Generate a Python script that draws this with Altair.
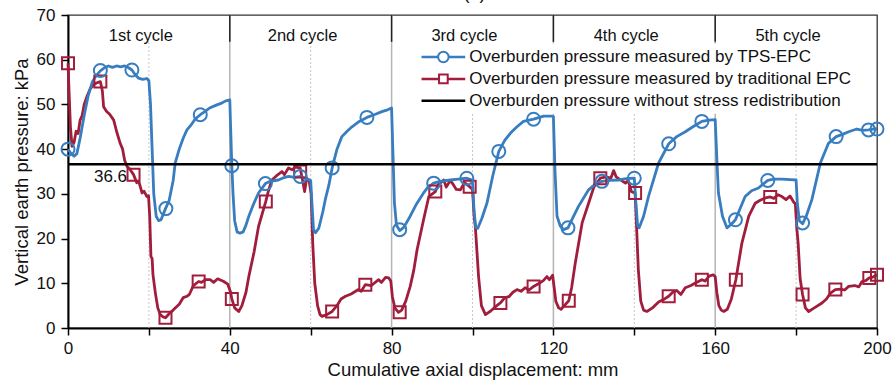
import altair as alt
import pandas as pd

# ---------------- data ----------------
TPS_X = [0, 0.6, 1.5, 2.2, 3, 4, 5, 6, 7, 8, 9, 10, 11, 12, 13, 14, 15, 15.8, 16.5, 17.4, 18.5, 19.5, 20,
         20.4, 20.8, 21.2, 21.8, 22.4, 23, 24.1, 25, 26, 26.5, 27.5, 28.5, 29.4, 30.5, 31.5, 32.7, 34, 35,
         36.8, 38, 39, 40, 40.2, 40.5, 40.8, 41.2, 41.8, 42.5, 43.3, 44, 44.7, 46, 47.1, 48.8, 50, 52, 53,
         54.5, 56, 57.4, 58.5, 59.5, 60, 60.3, 60.7, 61.2, 62, 63, 63.6, 64.5, 65.3, 66.5, 67.7, 69, 70.2,
         72, 73.9, 76, 77.6, 79, 80, 80.3, 80.7, 81.2, 82, 83, 84.6, 86, 87.9, 89, 90.4, 92, 94.5, 96.5,
         98.6, 99.6, 100, 100.4, 100.8, 101.3, 102.3, 103.6, 105, 106.5, 108, 109.4, 111, 112.6, 115.1,
         117.6, 119.5, 120, 120.4, 120.9, 121.7, 122.5, 123.6, 125, 126.2, 128.7, 130.5, 132, 134, 136.1,
         138, 140, 140.4, 140.8, 141.2, 142.3, 143.5, 146, 148.5, 150.5, 152.6, 154.5, 156.7, 158.5, 160,
         160.4, 160.8, 161.8, 162.9, 164, 165, 167.4, 169, 170.7, 172, 173, 174.5, 176.5, 178.5, 180,
         180.3, 180.8, 181.6, 182.5, 183.9, 186, 188, 189.9, 191.5, 193, 195, 196.5, 197.9, 199, 200]
TPS_Y = [40.0, 39.2, 38.4, 39.0, 42.5, 47.5, 52, 55, 56.5, 57.5, 58.2, 58.6, 58.3, 58.6, 58.4, 58.6, 58.2,
         57.7, 56.8, 55.9, 55.6, 55.8, 55.3,
         50, 40, 30, 25, 24.0, 24.2, 26.7, 28.5, 33, 36.9, 40, 42.5, 44.3, 45.5, 46.8, 47.7, 48.5, 49.2,
         49.9, 50.3, 50.8, 51, 45, 36.3, 30, 24, 21.5, 21.2, 21.5, 23, 25, 28, 30.2, 32.3, 32.8, 33.1, 33.5,
         33.9, 33.7, 33.9, 33.5, 33.2, 33.0, 28, 22, 21.3, 22.3, 26, 28.7, 32, 35.8, 40, 42.8, 44, 45,
         46.2, 47.1, 47.8, 48.4, 48.8, 49.2, 40, 28, 23, 21.8, 22.5, 25, 27.5, 30.2, 31.5, 32.4, 32.8, 33.1,
         33.3, 33.5, 33.2, 32.5, 26, 22.5, 22.3, 24.5, 28, 34, 39.5, 42, 43.6, 45, 46.2, 46.7,
         47.4, 47.4, 47.3, 35, 25, 22.8, 22, 22.4, 25, 27.2, 30.9, 32.3, 32.8, 33, 33.1,
         33.4, 33.5, 28, 23, 22.4, 25, 29.4, 36.9, 41.2, 42.8, 43.9, 45, 46.2, 46.5, 46.6,
         38, 30.2, 25, 22.4, 23.2, 24.2, 29.4, 30.7, 31.3, 32.3, 33, 33.3, 33.3, 33.2, 33.1,
         28, 24, 23.3, 25, 28.7, 36.9, 41.3, 42.8, 43.3, 43.9, 44.5, 44.2, 44.3, 44.5, 44.5]

TRAD_X = [0, 0.3, 0.6, 1, 1.5, 2, 2.5, 3, 3.5, 4, 4.7, 5.5, 6.3, 7, 8, 8.5, 8.8, 9.5, 10.3, 11.3, 12, 12.9,
          13.5, 14, 14.6, 15.3, 16.2, 17, 17.5, 18.3, 18.8, 19.5, 19.9, 20.2, 20.5, 20.8, 21, 21.6, 22.2,
          22.8, 23.5, 24.1, 25, 26, 26.9, 27.5, 28.5, 29.4, 30, 31, 32.3, 33, 34, 35.2, 36, 37, 38.5, 39.5,
          40.2, 40.5, 41.2, 42.2, 43, 44, 44.7, 46, 47.1, 48.9, 49.5, 50.4, 51.5, 52.9, 53.5, 54.5, 55.4,
          56.2, 57.4, 58, 58.5, 59, 59.6, 60.1, 60.5, 61, 61.7, 62.3, 62.8, 64, 65.3, 66.5, 67.5, 68.6, 70,
          71.8, 72.5, 73.5, 75, 76.8, 77.5, 78.5, 79.3, 79.8, 80.2, 80.8, 81.7, 82.5, 83.5, 84.6, 85.5, 86.3,
          87.9, 89.2, 90.8, 91.5, 92.9, 93.5, 94.5, 95.3, 96, 97, 98, 99.3, 100, 100.4, 100.7, 101.5, 102.2,
          103.2, 104.5, 106, 106.9, 108, 109, 110, 111, 112, 113, 114, 115.1, 116.5, 117.5, 118.4, 119,
          119.8, 120.2, 120.6, 121.3, 121.9, 122.7, 123.8, 124.5, 125.4, 127.1, 128.7, 130, 131.6, 133,
          134.2, 134.9, 135.5, 136.5, 137.8, 138.5, 139.3, 140.2, 140.5, 141, 141.6, 142.3, 143.1, 144.5,
          146, 147.5, 148.5, 149.5, 150.5, 151.5, 152.6, 154, 155, 156.7, 157.5, 158.5, 159.5, 160, 160.4,
          160.9, 161.5, 162.1, 163, 164, 165.1, 166.6, 168.3, 169.9, 171, 172.4, 173.6, 174.5, 175.5, 176.5,
          177.5, 178.5, 179.5, 179.8, 180.2, 180.5, 181, 181.6, 182.3, 183.1, 184.5, 186.4, 187.5, 188.5,
          189.7, 191, 192, 193, 194.5, 195.5, 196.3, 197.2, 198.1, 199, 200]
TRAD_Y = [59.2, 52, 45, 40.6, 41.5, 44, 43.5, 46.5, 47.5, 50, 51.8, 53.5, 54.4, 54.8, 55.1, 53, 49.5, 48.5,
          47.8, 46.5, 44, 41.3, 40, 37.5, 36.1, 35.5, 34.3, 32.5, 32.8, 30.2, 30.6, 29.4, 29.6, 25, 16, 15.5,
          12, 7.8, 4.5, 3, 2.5, 2.3, 3.2, 4, 4.8, 5.3, 6.8, 7.1, 7.5, 9.5, 10.4, 10.2, 10.8, 10.8, 10.2, 11,
          10.4, 9.8, 8, 6.5, 4.5, 3.7, 5, 8, 11.5, 17, 22.7, 28.3, 30.5, 33.1, 34, 35, 34.3, 35.8, 35.4, 36,
          35.8, 33, 30.5, 33.5, 33, 30, 19, 10, 5, 3, 2.6, 3, 3.7, 5, 6.5, 7.1, 7.6, 8.6, 8.2, 9.7, 9.5, 10.8,
          10.2, 11.3, 11.2, 10.5, 7, 4.5, 3.5, 4, 6, 9.3, 13, 17.5, 24.2, 29.4, 30.5, 32, 33.1, 31.5, 33, 32,
          31, 30.9, 32.5, 31.6, 31, 25, 22.7, 11.5, 5, 3, 3.8, 5, 5.6, 6.8, 7, 8, 8.6, 8.2, 9, 8.5, 9.3, 10,
          10.6, 11.5, 10.8, 11.8, 9, 6, 4.5, 4.2, 5, 6.1, 9, 14.5, 23.5, 27.9, 31.5, 33.5, 33.8, 33.5, 35.2,
          33.8, 33.2, 32.4, 33, 30.5, 30.2, 24, 13, 6, 4, 3.7, 4.5, 5.8, 6.5, 7.1, 8, 8.4, 7.5, 9, 9.5, 10,
          10.8, 10.5, 11.6, 11.9, 11.5, 8, 5, 4, 3.7, 4.2, 6.5, 10.8, 19, 25, 27.9, 28.5, 29.1, 29.3, 29,
          29.8, 29.4, 28.7, 29.5, 28, 27.9, 22, 19, 11, 7.5, 4.5, 3.7, 4.5, 5.6, 6.5, 7.8, 8.6, 8.7, 8.5, 9.3,
          9.5, 9.2, 10.4, 10.6, 11.2, 11.4, 11.9]

TPS_MARK_X = [0, 8, 15.8, 24.2, 32.7, 40.5, 48.8, 57.4, 65.3, 73.9, 82, 90.4, 98.6, 106.5, 115.1, 123.6,
              132, 140, 148.5, 156.7, 165, 173, 181.6, 189.9, 197.9, 200]
TPS_MARK_Y = [40, 57.6, 57.7, 26.7, 47.7, 36.3, 32.3, 33.9, 35.8, 47.1, 22, 32.4, 33.5, 39.5, 46.7, 22.4,
              32.8, 33.5, 41.2, 46.2, 24.2, 33, 23.5, 42.8, 44.3, 44.5]
TRAD_MARK_X = [0, 8, 16.2, 24.1, 32.3, 40.5, 48.9, 57.4, 65.3, 73.5, 82, 90.8, 99.3, 106.9, 115.1, 123.8,
               131.6, 140.2, 148.5, 156.7, 165.1, 173.6, 181.6, 189.7, 198.1, 200]
TRAD_MARK_Y = [59.2, 55.1, 34.3, 2.3, 10.4, 6.5, 28.3, 35, 3.7, 9.7, 3.5, 30.5, 31.6, 5.6, 9.3, 6.1,
               33.5, 30.2, 7.1, 10.8, 10.8, 29.3, 7.5, 8.6, 11.2, 11.9]

BASELINE = 36.6
CYCLE_LABELS = ["1st cycle", "2nd cycle", "3rd cycle", "4th cycle", "5th cycle"]
CYCLE_LABEL_X = [18, 58, 98, 138, 178]
CYCLE_BOUNDS = [40, 80, 120, 160]
HALF_BOUNDS = [20, 60, 100, 140, 180]
SERIES = ["Overburden pressure measured by TPS-EPC",
          "Overburden pressure measured by traditional EPC",
          "Overburden pressure without stress redistribution"]
COLORS = ["#377dbf", "#a11d3c", "#000000"]

FONT = "Liberation Sans"
X_DOM = [0, 200]
Y_DOM = [0, 70]

xs = alt.Scale(domain=X_DOM, nice=False, zero=False)
ys = alt.Scale(domain=Y_DOM, nice=False, zero=False)
cs = alt.Scale(domain=SERIES, range=COLORS)

tps = pd.DataFrame({"x": TPS_X, "y": TPS_Y, "i": range(len(TPS_X))})
trad = pd.DataFrame({"x": TRAD_X, "y": TRAD_Y, "i": range(len(TRAD_X))})
tps_m = pd.DataFrame({"x": TPS_MARK_X, "y": TPS_MARK_Y})
trad_m = pd.DataFrame({"x": TRAD_MARK_X, "y": TRAD_MARK_Y})

x_axis = alt.Axis(values=list(range(0, 201, 20)),
                  labelExpr="datum.value % 40 == 0 ? datum.label : ''",
                  title="Cumulative axial displacement: mm", grid=False,
                  labelFont=FONT, labelFontSize=17, titleFont=FONT, titleFontSize=18.5,
                  titleFontWeight="normal", labelColor="#111", titleColor="#111",
                  domainColor="black", domainWidth=2, tickColor="black", tickWidth=1.5,
                  tickSize=7, labelPadding=5, titlePadding=4, labelFlush=False)
y_axis = alt.Axis(values=list(range(0, 71, 10)), title="Vertical earth pressure: kPa", grid=False,
                  labelFont=FONT, labelFontSize=17, titleFont=FONT, titleFontSize=18.5,
                  titleFontWeight="normal", labelColor="#111", titleColor="#111",
                  domainColor="black", domainWidth=2, tickColor="black", tickWidth=1.5,
                  tickSize=7, labelPadding=6, titlePadding=5, labelFlush=False)

# reference lines
bounds_df = pd.DataFrame({"x": CYCLE_BOUNDS, "y0": [0] * 4, "y1": [70] * 4, "ys": [64] * 4})
half_df = pd.DataFrame({"x": HALF_BOUNDS, "y0": [0] * 5, "y1": [64] * 5})

gray_rules = alt.Chart(bounds_df).mark_rule(color="#b4b4b4", strokeWidth=1.5).encode(
    x=alt.X("x:Q", scale=xs, axis=x_axis), y=alt.Y("y0:Q", scale=ys, axis=y_axis), y2="y1:Q")
black_sep = alt.Chart(bounds_df).mark_rule(color="#222", strokeWidth=1.5).encode(
    x=alt.X("x:Q", scale=xs), y=alt.Y("ys:Q", scale=ys), y2="y1:Q")
dotted = alt.Chart(half_df).mark_rule(color="#c8c8c8", strokeWidth=1, strokeDash=[2, 2]).encode(
    x=alt.X("x:Q", scale=xs), y=alt.Y("y0:Q", scale=ys), y2="y1:Q")

# legend background box (white, hides grid lines behind the legend)
leg_box = alt.Chart(pd.DataFrame({"x0": [86.5], "x1": [194], "y0": [47.9], "y1": [63.6]})).mark_rect(
    color="white", opacity=1).encode(
    x=alt.X("x0:Q", scale=xs), x2="x1:Q", y=alt.Y("y0:Q", scale=ys), y2="y1:Q")

base_df = pd.DataFrame({"y": [BASELINE]})
base_rule = alt.Chart(base_df).mark_rule(color="black", strokeWidth=2.5).encode(
    y=alt.Y("y:Q", scale=ys))
base_text = alt.Chart(pd.DataFrame({"x": [10.5], "y": [33.7], "t": [f"{BASELINE}"]})).mark_text(
    font=FONT, fontSize=17, color="#111", baseline="middle", align="center").encode(
    x=alt.X("x:Q", scale=xs), y=alt.Y("y:Q", scale=ys), text="t:N")

cycle_text = alt.Chart(pd.DataFrame({"x": CYCLE_LABEL_X, "y": [65.4] * 5, "t": CYCLE_LABELS})).mark_text(
    font=FONT, fontSize=16.5, color="#111", baseline="middle", align="center").encode(
    x=alt.X("x:Q", scale=xs), y=alt.Y("y:Q", scale=ys), text="t:N")

panel_text = alt.Chart(pd.DataFrame({"x": [100.5], "y": [74.7], "t": ["(a)"]})).mark_text(
    font=FONT, fontSize=18, color="#111", baseline="middle", align="center").encode(
    x=alt.X("x:Q", scale=xs), y=alt.Y("y:Q", scale=ys), text="t:N")

trad_line = alt.Chart(trad).mark_line(color=COLORS[1], strokeWidth=2.8, strokeJoin="round").encode(
    x=alt.X("x:Q", scale=xs), y=alt.Y("y:Q", scale=ys), order="i:Q")
tps_line = alt.Chart(tps).mark_line(color=COLORS[0], strokeWidth=2.8, strokeJoin="round").encode(
    x=alt.X("x:Q", scale=xs), y=alt.Y("y:Q", scale=ys), order="i:Q")
trad_pts = alt.Chart(trad_m).mark_point(shape="square", filled=False, color=COLORS[1], size=144,
                                        strokeWidth=2, opacity=1).encode(
    x=alt.X("x:Q", scale=xs), y=alt.Y("y:Q", scale=ys))
tps_pts = alt.Chart(tps_m).mark_point(shape="circle", filled=False, color=COLORS[0], size=169,
                                      strokeWidth=2, opacity=1).encode(
    x=alt.X("x:Q", scale=xs), y=alt.Y("y:Q", scale=ys))

# legend (drawn in data coordinates, top right area)
leg = pd.DataFrame({"series": SERIES, "y": [60.6, 55.7, 50.8],
                    "x0": [87.4] * 3, "x1": [98.2] * 3, "xm": [92.8] * 3, "xt": [99.2] * 3,
                    "shape": ["circle", "square", "none"], "size": [110, 75, 0]})
leg_lines = alt.Chart(leg).mark_rule(strokeWidth=2.5).encode(
    x=alt.X("x0:Q", scale=xs), x2="x1:Q", y=alt.Y("y:Q", scale=ys),
    color=alt.Color("series:N", scale=cs, legend=None))
leg_marks = alt.Chart(leg).transform_filter("datum.size > 0").mark_point(
    filled=False, strokeWidth=2, opacity=1, fill="white", fillOpacity=1).encode(
    x=alt.X("xm:Q", scale=xs), y=alt.Y("y:Q", scale=ys),
    color=alt.Color("series:N", scale=cs, legend=None),
    shape=alt.Shape("shape:N", scale=None, legend=None),
    size=alt.Size("size:Q", scale=None, legend=None))
leg_text = alt.Chart(leg).mark_text(font=FONT, fontSize=17, color="#111", align="left",
                                    baseline="middle").encode(
    x=alt.X("xt:Q", scale=xs), y=alt.Y("y:Q", scale=ys), text="series:N")

chart = alt.layer(gray_rules, dotted, black_sep, leg_box, trad_line, tps_line, trad_pts, tps_pts,
                  base_rule, base_text, cycle_text, panel_text,
                  leg_lines, leg_marks, leg_text).properties(
    width=809, height=313,
    autosize=alt.AutoSizeParams(type="none"),
    padding={"left": 68, "top": 15, "right": 16, "bottom": 60},
    background="white",
).configure_view(stroke="#333", strokeWidth=1.3)

chart.save("out.html", embed_options={"renderer": "svg", "actions": False})
